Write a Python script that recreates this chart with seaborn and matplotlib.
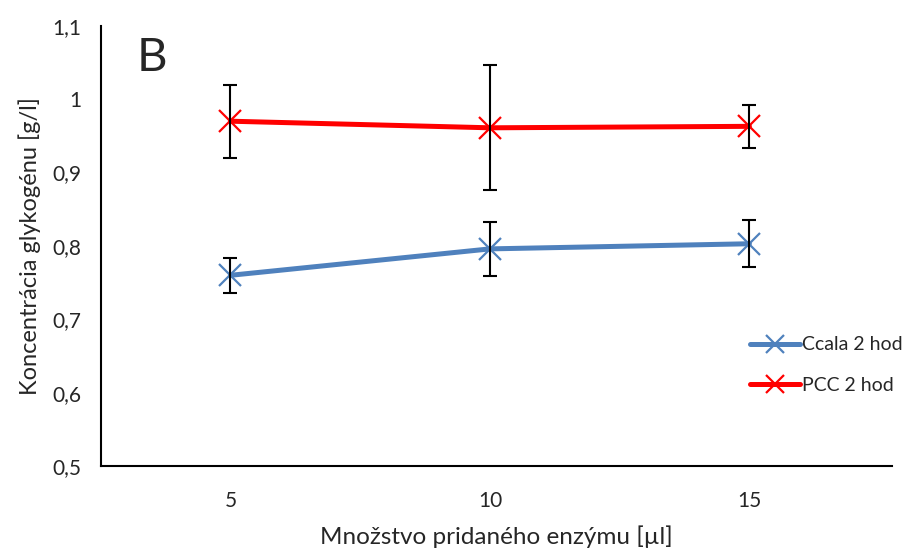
import numpy as np
import pandas as pd
import seaborn as sns
import matplotlib.pyplot as plt
from matplotlib.ticker import FuncFormatter

# =====================
# Data
# =====================
enzyme = ["5", "10", "15"]
ccala = [0.760, 0.796, 0.803]
ccala_err = [0.024, 0.037, 0.032]
pcc = [0.970, 0.961, 0.963]
pcc_err = [0.050, 0.085, 0.029]
series_names = ["Ccala 2 hod", "PCC 2 hod"]
colors = ["#4F81BD", "#FF0000"]

df = pd.DataFrame({
    "pos": list(range(len(enzyme))) * 2,
    "value": ccala + pcc,
    "err": ccala_err + pcc_err,
    "series": [series_names[0]] * 3 + [series_names[1]] * 3,
})

# =====================
# Plot
# =====================
sns.set_style("white")
plt.rcParams["font.family"] = ["Lato", "DejaVu Sans"]

fig = plt.figure(figsize=(9.15, 5.49), dpi=100)
ax = fig.add_axes([0.110, 0.151, 0.865, 0.802])

for name, c in zip(series_names, colors):
    sub = df[df["series"] == name]
    sns.lineplot(data=sub, x="pos", y="value", color=c,
                 marker="x", markersize=16, markeredgewidth=1.6,
                 markeredgecolor=c, linewidth=3.6, ax=ax)
    ax.errorbar(sub["pos"], sub["value"], yerr=sub["err"], fmt="none",
                ecolor="black", elinewidth=1.5, capsize=5, capthick=1.5, zorder=5)

ax.set_xlim(-0.5, 2.55)
ax.set_ylim(0.5, 1.1)
ax.set_xticks(range(len(enzyme)))
ax.set_xticklabels(enzyme)
ax.set_yticks(np.arange(0.5, 1.11, 0.1))
ax.yaxis.set_major_formatter(FuncFormatter(lambda v, p: f"{v:.1f}".rstrip("0").rstrip(".").replace(".", ",")))
ax.tick_params(axis="both", length=0, labelsize=15)
ax.tick_params(axis="y", pad=14)
ax.tick_params(axis="x", pad=18)

for side in ["top", "right"]:
    ax.spines[side].set_visible(False)
for side in ["left", "bottom"]:
    ax.spines[side].set_color("black")
    ax.spines[side].set_linewidth(1.5)

ax.set_xlabel("Množstvo pridaného enzýmu [µl]", fontsize=17.5, labelpad=10)
ax.set_ylabel("Koncentrácia glykogénu [g/l]", fontsize=17, labelpad=8)

ax.text(0.045, 0.975, "B", transform=ax.transAxes, fontsize=34, va="top", ha="left")

handles = [plt.Line2D([], [], color=c, lw=3.6, marker="x", markersize=13, markeredgewidth=1.6)
           for c in colors]
fig.legend(handles, series_names, loc="center left", bbox_to_anchor=(0.8, 0.335),
           frameon=False, fontsize=14, handlelength=2.6, handletextpad=0.1,
           labelspacing=1.2)

fig.savefig("out.png", dpi=100)
